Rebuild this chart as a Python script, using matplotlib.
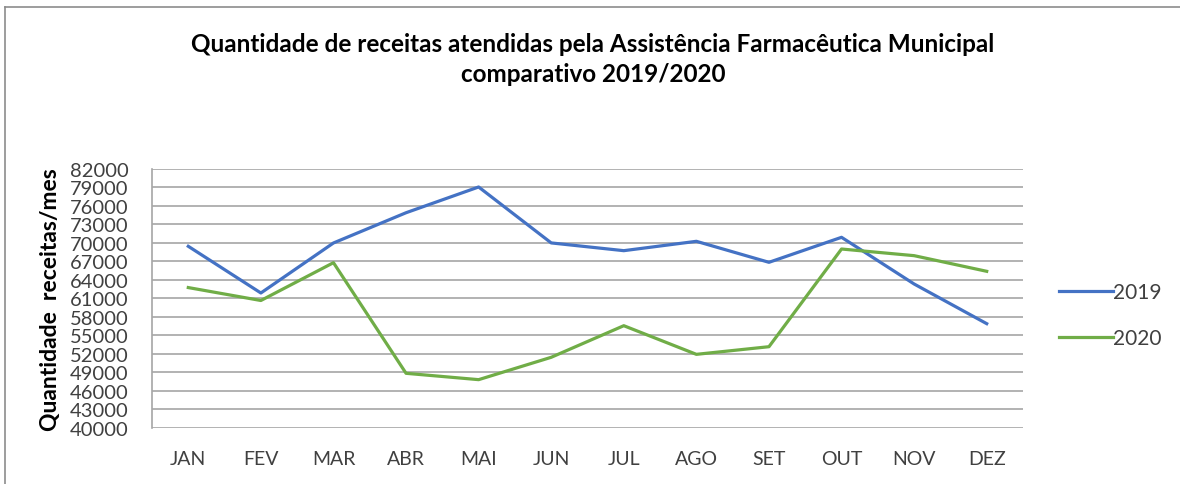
import matplotlib.pyplot as plt
from matplotlib.lines import Line2D

meses = ['JAN', 'FEV', 'MAR', 'ABR', 'MAI', 'JUN', 'JUL', 'AGO', 'SET', 'OUT', 'NOV', 'DEZ']
receitas_2019 = [69450, 61870, 69990, 74900, 79080, 70000, 68740, 70260, 66850, 70910, 63330, 56890]
receitas_2020 = [62750, 60650, 66790, 48830, 47800, 51430, 56560, 51910, 53150, 69010, 67930, 65390]
yticks = list(range(40000, 82001, 3000))

plt.rcParams['font.family'] = ['Lato', 'DejaVu Sans']
plt.rcParams['ytick.major.pad'] = 17
plt.rcParams['xtick.major.pad'] = 16

fig = plt.figure(figsize=(11.8, 4.85), dpi=100)
ax = fig.add_axes([152 / 1180, 1 - 428.7 / 485, (1023 - 152) / 1180, (428.7 - 170) / 485])

x = range(len(meses))
ax.plot(x, receitas_2019, color='#4472C4', lw=2.3, label='2019')
ax.plot(x, receitas_2020, color='#70AD47', lw=2.3, label='2020')

ax.set_xlim(-0.5, len(meses) - 0.5)
ax.set_ylim(40000, 82000)
ax.set_yticks(yticks)
ax.set_yticklabels([str(v) for v in yticks], fontsize=14.5, color='#404040')
ax.set_xticks(list(x))
ax.set_xticklabels(meses, fontsize=14, color='#404040')
ax.tick_params(axis='both', length=0)
ax.grid(axis='y', color='#a6a6a6', lw=1.2)
ax.set_axisbelow(True)
for s in ['top', 'right', 'bottom']:
    ax.spines[s].set_visible(False)
ax.spines['left'].set_color('#a6a6a6')
ax.spines['left'].set_linewidth(1.2)

ax.set_ylabel('Quantidade  receitas/mes', fontsize=16.5, fontweight='bold', labelpad=6)

fig.text(0.5025, 1 - 44 / 485, 'Quantidade de receitas atendidas pela Assistência Farmacêutica Municipal',
         ha='center', va='center', fontsize=17.5, fontweight='bold', color='black')
fig.text(0.5025, 1 - 74 / 485, 'comparativo 2019/2020',
         ha='center', va='center', fontsize=17.5, fontweight='bold', color='black')

leg = ax.legend(loc='center left', bbox_to_anchor=(1.02, 0.436), frameon=False,
                fontsize=15, handlelength=2.6, labelspacing=1.25, handletextpad=0.0)
for t in leg.get_texts():
    t.set_color('#404040')

# borda do gráfico
fig.add_artist(Line2D([4.5 / 1180, 4.5 / 1180], [0, 1 - 7.5 / 485], color='#8c8c8c', lw=1.2))
fig.add_artist(Line2D([4.5 / 1180, 1], [1 - 7.5 / 485, 1 - 7.5 / 485], color='#8c8c8c', lw=1.2))

fig.savefig('out.png', dpi=100)
